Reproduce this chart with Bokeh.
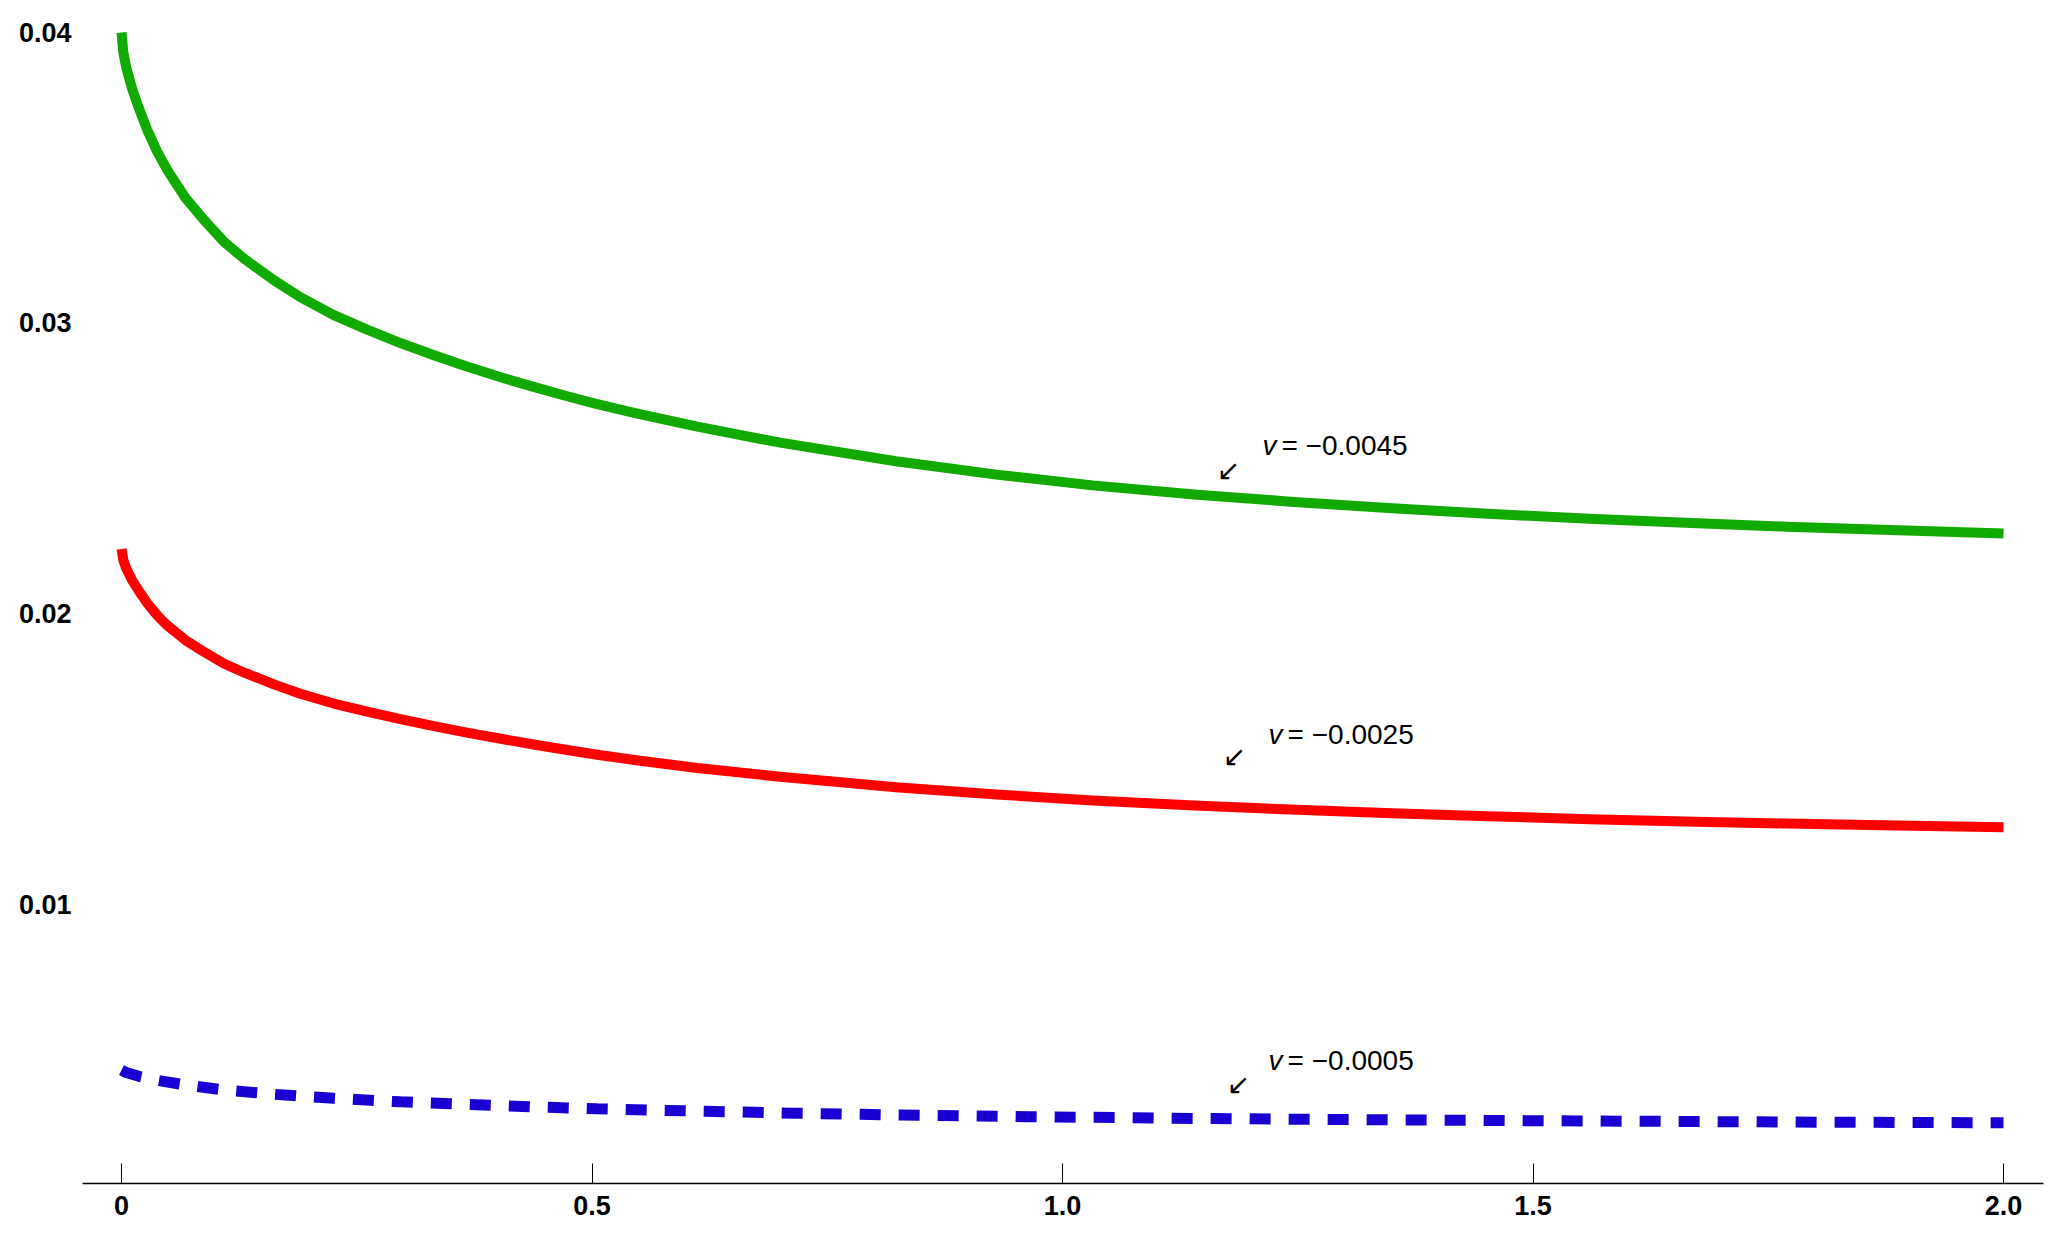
from bokeh.plotting import figure
from bokeh.models import FixedTicker, Range1d
from bokeh.core.properties import value
from bokeh.embed import file_html
from bokeh.resources import INLINE

# ---- data ----
x_green = [0, 0.002, 0.005, 0.0114, 0.0184, 0.0273, 0.0379, 0.0486, 0.068, 0.0857, 0.1087,
           0.130, 0.162, 0.190, 0.2256, 0.261, 0.2965, 0.332, 0.367, 0.403, 0.438, 0.4736,
           0.5055, 0.547, 0.612, 0.70, 0.823, 0.93, 1.032, 1.14, 1.242, 1.35, 1.452, 1.56,
           1.662, 1.77, 1.871, 2.0]
y_green = [0.0400, 0.0393, 0.0388, 0.03805, 0.0374, 0.03665, 0.0359, 0.03527, 0.0343, 0.03362, 0.0328,
           0.03222, 0.03147, 0.03089, 0.03027, 0.02977, 0.02931, 0.02889, 0.0285, 0.02813, 0.0278, 0.02748,
           0.02721, 0.02689, 0.02643, 0.02588, 0.02524, 0.02478, 0.02441, 0.0241, 0.02385, 0.02362, 0.02343, 0.02326,
           0.02312, 0.02299, 0.02288, 0.02275]

x_red = [0, 0.002, 0.005, 0.0114, 0.0184, 0.0273, 0.0379, 0.0486, 0.068, 0.0857, 0.1087,
         0.130, 0.162, 0.190, 0.2256, 0.261, 0.2965, 0.332, 0.367, 0.403, 0.438, 0.4736,
         0.5055, 0.547, 0.612, 0.70, 0.823, 0.93, 1.032, 1.14, 1.242, 1.35, 1.452, 1.56,
         1.662, 1.77, 1.871, 2.0]
y_red = [0.02222, 0.02183, 0.02156, 0.02114, 0.02078, 0.02036, 0.01994, 0.01959, 0.01908, 0.01872, 0.01828,
         0.01797, 0.01756, 0.01724, 0.01690, 0.01662, 0.01636, 0.01612, 0.01590, 0.01569, 0.01549, 0.01530,
         0.01514, 0.01495, 0.01468, 0.01438, 0.01402, 0.01377, 0.01356, 0.01339, 0.01325, 0.01312, 0.01302, 0.01292,
         0.01284, 0.01277, 0.01271, 0.01264]

x_blue = [0, 0.005, 0.0184, 0.0379, 0.068, 0.1087, 0.162, 0.2256, 0.2965, 0.367, 0.438,
          0.5055, 0.612, 0.714, 0.823, 0.964, 1.14, 1.293, 1.452, 1.622, 1.8, 2.0]
y_blue = [0.00428, 0.00420, 0.00407, 0.00393, 0.00377, 0.00360, 0.00345, 0.00331, 0.00319, 0.00310, 0.00302,
          0.00295, 0.00287, 0.00280, 0.00274, 0.00268, 0.00262, 0.00258, 0.00255, 0.00252, 0.00249, 0.00247]

label_values = ["= \u22120.0045", "= \u22120.0025", "= \u22120.0005"]
label_x = [1.2125, 1.219, 1.219]
label_y = [0.02578, 0.01583, 0.00462]
arrow_x = [1.1764, 1.1828, 1.187]
arrow_y = [0.02492, 0.01508, 0.00379]

x_ticks = [0, 0.5, 1.0, 1.5, 2.0]
x_tick_labels = ["0", "0.5", "1.0", "1.5", "2.0"]
y_ticks = [0.01, 0.02, 0.03, 0.04]
y_tick_labels = ["0.01", "0.02", "0.03", "0.04"]

# ---- figure ----
p = figure(width=2047, height=1226, output_backend="svg", toolbar_location=None,
           x_range=Range1d(-0.04145, 2.0425), y_range=Range1d(0.000379, 0.040826),
           min_border_left=82, min_border_right=4, min_border_top=8, min_border_bottom=43)
p.outline_line_color = None
p.xgrid.visible = False
p.ygrid.visible = False
p.background_fill_color = "white"
p.border_fill_color = "white"

# x axis
xa = p.xaxis[0]
xa.ticker = FixedTicker(ticks=x_ticks)
xa.major_label_overrides = {float(t): l for t, l in zip(x_ticks, x_tick_labels)}
xa.axis_line_color = "black"
xa.axis_line_width = 1.3
xa.major_tick_in = 20
xa.major_tick_out = 0
xa.major_tick_line_width = 1
xa.minor_tick_line_color = None
xa.major_label_text_font = "Liberation Sans"
xa.major_label_text_font_style = "bold"
xa.major_label_text_font_size = "27px"
xa.major_label_text_color = "black"
xa.major_label_standoff = 12

# y axis
ya = p.yaxis[0]
ya.ticker = FixedTicker(ticks=y_ticks)
ya.major_label_overrides = {float(t): l for t, l in zip(y_ticks, y_tick_labels)}
ya.axis_line_color = None
ya.major_tick_line_color = None
ya.minor_tick_line_color = None
ya.major_tick_in = 0
ya.major_tick_out = 0
ya.major_label_text_font = "Liberation Sans"
ya.major_label_text_font_style = "bold"
ya.major_label_text_font_size = "27px"
ya.major_label_text_color = "black"
ya.major_label_standoff = 11

# curves
p.line(x_green, y_green, line_color="#11aa00", line_width=10, line_join="round")
p.line(x_red, y_red, line_color="#ff0000", line_width=10, line_join="round")
p.line(x_blue, y_blue, line_color="#1900d2", line_width=11, line_dash="21 18")

# annotations
p.text(x=label_x, y=label_y, text=["v"] * 3, text_font=value("Liberation Sans"),
       text_font_style="italic", text_font_size="28px", text_color="black",
       text_align="left", text_baseline="alphabetic")
p.text(x=label_x, y=label_y, text=label_values, text_font=value("Liberation Sans"),
       text_font_size="28px", text_color="black", x_offset=19,
       text_align="left", text_baseline="alphabetic")
p.text(x=arrow_x, y=arrow_y, text=["\u2199"] * 3, text_font=value("DejaVu Sans"),
       text_font_size="28px", text_color="black",
       text_align="center", text_baseline="middle")

open("out.html", "w").write(file_html(p, INLINE))
